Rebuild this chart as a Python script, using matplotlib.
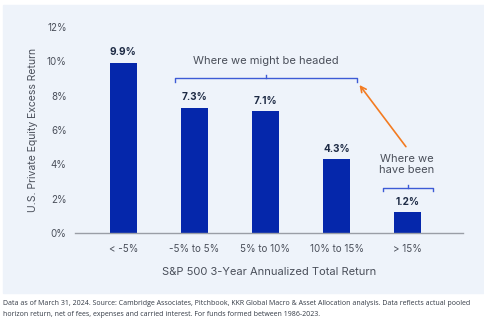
import matplotlib.pyplot as plt
from matplotlib.patches import Rectangle

plt.rcParams['font.family'] = ['Inter', 'DejaVu Sans']

categories = ['< -5%', '-5% to 5%', '5% to 10%', '10% to 15%', '> 15%']
excess_return = [9.9, 7.3, 7.1, 4.3, 1.2]
yticks = [0, 2, 4, 6, 8, 10, 12]

bar_color = '#0527ab'
text_dark = '#1d2a44'
text_gray = '#4a4f5a'
bracket_color = '#3d5bd6'
arrow_color = '#f37b21'
panel_color = '#eef3fa'

W, H = 485, 332
fig = plt.figure(figsize=(W / 100, H / 100), dpi=100)
fig.patch.set_facecolor('white')

# light panel behind the chart
fig.patches.append(Rectangle((3 / W, 1 - 293 / H), 1, (293 - 5) / H,
                             transform=fig.transFigure, color=panel_color,
                             zorder=-10))

ax = fig.add_axes([75 / W, 1 - 233 / H, (463 - 75) / W, (233 - 27) / H])
ax.set_facecolor('none')
x = range(len(categories))
ax.bar(x, excess_return, width=0.38, color=bar_color, zorder=2)

for i, v in enumerate(excess_return):
    ax.annotate(f'{v:.1f}%', (i, v), xytext=(0, 4), textcoords='offset points',
                ha='center', va='bottom', fontsize=7.2, fontweight='bold',
                color=text_dark)

ax.set_xlim(-0.68, 4.78)
ax.set_ylim(0, 12)
ax.set_yticks(yticks)
ax.set_yticklabels([f'{t}%' for t in yticks])
ax.set_xticks(list(x))
ax.set_xticklabels(categories)
ax.tick_params(axis='both', length=0, labelsize=7, colors=text_gray)
ax.tick_params(axis='y', pad=6)
ax.tick_params(axis='x', pad=8)
for s in ['left', 'right', 'top']:
    ax.spines[s].set_visible(False)
ax.spines['bottom'].set_color('#9a9ea6')
ax.spines['bottom'].set_linewidth(1.0)

ax.set_ylabel('U.S. Private Equity Excess Return', fontsize=7.5,
              color=text_gray, labelpad=6)
ax.set_xlabel('S&P 500 3-Year Annualized Total Return', fontsize=8,
              color=text_gray, labelpad=9)


def bracket(x0, x1, y, hook=0.22, tip=0.2):
    xm = (x0 + x1) / 2
    ax.plot([x0, x0, x1, x1], [y - hook, y, y, y - hook], color=bracket_color,
            lw=1.0, clip_on=False, solid_joinstyle='round')
    ax.plot([xm, xm], [y, y + tip], color=bracket_color, lw=1.0,
            clip_on=False)


# "Where we might be headed" over bars 1..3
bracket(0.725, 3.29, 9.03)
ax.text(2.0, 10.0, 'Where we might be headed', ha='center', va='center',
        fontsize=8, color=text_gray)

# "Where we have been" over last bar
bracket(3.65, 4.36, 2.62, hook=0.18, tip=0.15)
ax.text(3.99, 4.0, 'Where we\nhave been', ha='center', va='center',
        fontsize=8, color=text_gray, linespacing=1.15)

ax.annotate('', xy=(3.3, 8.75), xytext=(4.0, 4.9),
            arrowprops=dict(arrowstyle='->', color=arrow_color, lw=1.2,
                            mutation_scale=10), annotation_clip=False)

fig.text(3 / W, 1 - 300 / H,
         'Data as of March 31, 2024. Source: Cambridge Associates, Pitchbook, '
         'KKR Global Macro & Asset Allocation analysis. Data reflects actual pooled\n'
         'horizon return, net of fees, expenses and carried interest. '
         'For funds formed between 1986-2023.',
         ha='left', va='top', fontsize=5.0, color='#333a45',
         family=['Open Sans', 'DejaVu Sans'], linespacing=1.9)

fig.savefig('out.png', dpi=100)
